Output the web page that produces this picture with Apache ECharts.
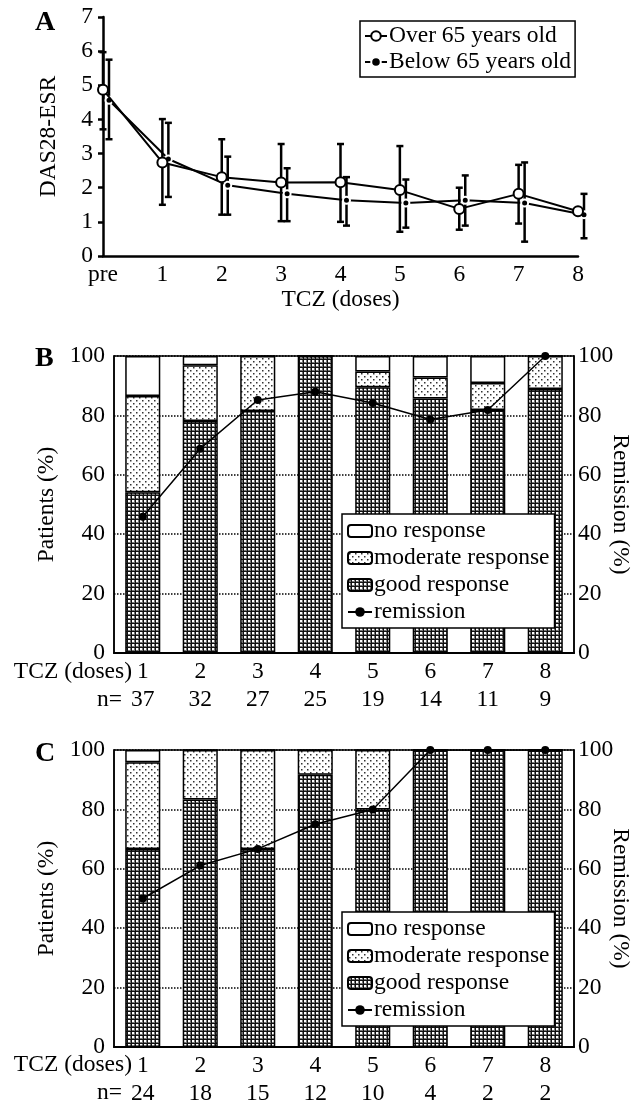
<!DOCTYPE html>
<html>
<head>
<meta charset="utf-8">
<script src="https://cdn.jsdelivr.net/npm/echarts@6/dist/echarts.min.js"></script>
<style>
html,body{margin:0;padding:0;background:#fff;}
#chart{width:639px;height:1102px;}
</style>
</head>
<body>
<div id="chart"></div>
<script>
// ---------- Panel A data ----------
const doseLabelsA = ['pre','1','2','3','4','5','6','7','8'];
const overMean  = [4.87, 2.74, 2.31, 2.15, 2.16, 1.93, 1.38, 1.82, 1.31];
const overLow   = [3.71, 1.50, 1.21, 1.02, 1.00, 0.71, 0.77, 0.95, null];
const overHigh  = [5.97, 4.01, 3.42, 3.28, 3.28, 3.22, 2.00, 2.67, null];
const belowMean = [4.56, 2.84, 2.07, 1.82, 1.63, 1.55, 1.63, 1.55, 1.21];
const belowLow  = [3.42, 1.73, 1.21, 1.02, 0.89, 0.83, 0.89, 0.42, 0.52];
const belowHigh = [5.75, 3.90, 2.91, 2.57, 2.31, 2.24, 2.36, 2.74, 1.82];

// ---------- Panel B data ----------
const doses = ['1','2','3','4','5','6','7','8'];
const nB = [37, 32, 27, 25, 19, 14, 11, 9];
const goodB     = [54.1, 78.1, 81.5, 100, 89.5, 85.7, 81.8, 88.9];
const moderateB = [32.4, 18.8, 18.5, 0, 5.3, 7.1, 9.1, 11.1];
const noneB     = [13.5, 3.1, 0, 0, 5.2, 7.2, 9.1, 0];
const remissionB = [45.9, 68.8, 85.2, 88.0, 84.2, 78.6, 81.8, 100];

// ---------- Panel C data ----------
const nC = [24, 18, 15, 12, 10, 4, 2, 2];
const goodC     = [66.7, 83.3, 66.7, 91.7, 80, 100, 100, 100];
const moderateC = [29.2, 16.7, 33.3, 8.3, 20, 0, 0, 0];
const noneC     = [4.1, 0, 0, 0, 0, 0, 0, 0];
const remissionC = [50, 61.1, 66.7, 75, 80, 100, 100, 100];

const FONT = '"Liberation Serif", "Times New Roman", serif';
const FS = 23.5;

function makePattern(kind) {
  const c = document.createElement('canvas');
  const ctx = c.getContext('2d');
  if (kind === 'good') {
    c.width = 4; c.height = 4;
    ctx.fillStyle = '#111'; ctx.fillRect(0, 0, 4, 4);
    ctx.fillStyle = '#777'; ctx.fillRect(0, 0, 3, 3);
    ctx.fillStyle = '#fff'; ctx.fillRect(0, 0, 2, 2);
  } else {
    c.width = 6; c.height = 6;
    ctx.fillStyle = '#fff'; ctx.fillRect(0, 0, 6, 6);
    ctx.fillStyle = '#333';
    ctx.fillRect(1, 1, 1.5, 1.5);
    ctx.fillRect(4, 4, 1.5, 1.5);
  }
  return { image: c, repeat: 'repeat' };
}
const goodFill = makePattern('good');
const modFill = makePattern('mod');

function errRender(params, api) {
  const x = api.value(0);
  const lo = api.value(1), hi = api.value(2);
  const p1 = api.coord([x, hi]);
  const p2 = api.coord([x, lo]);
  const w = 3.5;
  const st = { stroke: '#000', lineWidth: 2.5 };
  return {
    type: 'group',
    children: [
      { type: 'line', shape: { x1: p1[0], y1: p1[1], x2: p2[0], y2: p2[1] }, style: st },
      { type: 'line', shape: { x1: p1[0] - w, y1: p1[1], x2: p1[0] + w, y2: p1[1] }, style: st },
      { type: 'line', shape: { x1: p2[0] - w, y1: p2[1], x2: p2[0] + w, y2: p2[1] }, style: st }
    ]
  };
}
function errData(lo, hi) {
  const out = [];
  lo.forEach((l, i) => { if (l != null && hi[i] != null) out.push([i, l, hi[i]]); });
  return out;
}

const txt = { fontFamily: FONT, fontSize: FS, color: '#000' };

function barAxisX(gridIndex, nArr) {
  return {
    type: 'category', gridIndex, data: doses,
    axisLine: { show: true, lineStyle: { color: '#000', width: 2 } },
    axisTick: { show: false },
    axisLabel: Object.assign({}, txt, {
      margin: 5, lineHeight: 28,
      formatter: (v, i) => v + '\n' + nArr[i]
    })
  };
}
function barAxisYLeft(gridIndex) {
  return {
    type: 'value', gridIndex, min: 0, max: 100, interval: 20, position: 'left',
    name: 'Patients (%)', nameLocation: 'middle', nameGap: 55, nameRotate: 90,
    nameTextStyle: txt,
    axisLine: { show: true, lineStyle: { color: '#000', width: 1.5 } },
    axisTick: { show: false },
    axisLabel: Object.assign({}, txt, { margin: 9 }),
    splitLine: { show: true, lineStyle: { type: 'dotted', color: '#000', width: 1.5 } }
  };
}
function barAxisYRight(gridIndex) {
  return {
    type: 'value', gridIndex, min: 0, max: 100, interval: 20, position: 'right',
    name: 'Remission (%)', nameLocation: 'middle', nameGap: 34, nameRotate: -90,
    nameMoveOverlap: false,
    nameTextStyle: txt,
    axisLine: { show: true, lineStyle: { color: '#000', width: 1.5 } },
    axisTick: { show: false },
    axisLabel: Object.assign({}, txt, { margin: 4 }),
    splitLine: { show: false }
  };
}
function barSeries(name, data, axisIdx, fill, stack) {
  return {
    type: 'bar', name, data, xAxisIndex: axisIdx.x, yAxisIndex: axisIdx.y, stack,
    barWidth: '61%',
    itemStyle: { color: fill, borderColor: '#000', borderWidth: 1.5 },
    emphasis: { disabled: true }, animation: false
  };
}
function remSeries(data, xIdx, yIdx) {
  return {
    type: 'line', name: 'remission', data, xAxisIndex: xIdx, yAxisIndex: yIdx,
    symbol: 'circle', symbolSize: 8,
    itemStyle: { color: '#000' },
    lineStyle: { color: '#000', width: 1.5 },
    z: 5, animation: false
  };
}
function barLegend(top) {
  return {
    left: 342, top, orient: 'vertical',
    data: [
      { name: 'no response' }, { name: 'moderate response' },
      { name: 'good response' }, { name: 'remission' }
    ],
    backgroundColor: '#fff', borderColor: '#000', borderWidth: 1.5,
    padding: [5, 5, 4, 5], itemGap: 3, itemWidth: 24, itemHeight: 12,
    textStyle: Object.assign({}, txt, { padding: [0, 0, 0, -3] }),
    selectedMode: false
  };
}

const gridBase = { outerBoundsMode: 'none', containLabel: false };

const option = {
  backgroundColor: '#fff',
  animation: false,
  textStyle: { fontFamily: FONT },
  grid: [
    Object.assign({ left: 103, right: 61, top: 17, bottom: 846 }, gridBase),
    Object.assign({ left: 109, right: 55, top: 17, bottom: 846 }, gridBase),
    Object.assign({ left: 114, right: 65, top: 356, bottom: 449, show: true, borderColor: '#000', borderWidth: 1.5 }, gridBase),
    Object.assign({ left: 114, right: 65, top: 750, bottom: 55, show: true, borderColor: '#000', borderWidth: 1.5 }, gridBase)
  ],
  xAxis: [
    {
      type: 'category', gridIndex: 0, data: doseLabelsA, boundaryGap: false,
      name: 'TCZ (doses)', nameLocation: 'middle', nameGap: 30, nameTextStyle: txt,
      axisLine: { show: true, lineStyle: { color: '#000', width: 2.5 } },
      axisTick: { show: false },
      axisLabel: Object.assign({}, txt, { margin: 7 })
    },
    { type: 'category', gridIndex: 1, data: doseLabelsA, boundaryGap: false, show: false },
    barAxisX(2, nB),
    barAxisX(3, nC)
  ],
  yAxis: [
    {
      type: 'value', gridIndex: 0, min: 0, max: 7, interval: 1,
      name: 'DAS28-ESR', nameLocation: 'middle', nameGap: 42, nameRotate: 90, nameTextStyle: txt,
      axisLine: { show: true, lineStyle: { color: '#000', width: 2.5 } },
      axisTick: { show: true, length: 5, lineStyle: { color: '#000', width: 2.5 } },
      axisLabel: Object.assign({}, txt, { margin: 10 }),
      splitLine: { show: false }
    },
    { type: 'value', gridIndex: 1, min: 0, max: 7, interval: 1, show: false, splitLine: { show: false } },
    barAxisYLeft(2), barAxisYRight(2),
    barAxisYLeft(3), barAxisYRight(3)
  ],
  legend: [
    {
      left: 360, top: 21, orient: 'vertical',
      data: ['Over 65 years old', 'Below 65 years old'],
      backgroundColor: '#fff', borderColor: '#000', borderWidth: 1.5,
      padding: [3, 4, 3, 4], itemGap: 2, itemWidth: 22, itemHeight: 12,
      textStyle: Object.assign({}, txt, { padding: [0, 0, 0, -3] }),
      selectedMode: false
    },
    barLegend(514),
    barLegend(912)
  ],
  graphic: [
    { type: 'text', x: 35, y: 23, style: { text: 'A', font: 'bold 28px ' + FONT, fill: '#000', verticalAlign: 'middle' } },
    { type: 'text', x: 35, y: 359, style: { text: 'B', font: 'bold 28px ' + FONT, fill: '#000', verticalAlign: 'middle' } },
    { type: 'text', x: 35, y: 754, style: { text: 'C', font: 'bold 28px ' + FONT, fill: '#000', verticalAlign: 'middle' } },
    { type: 'text', x: 132, y: 672, style: { text: 'TCZ (doses)', font: FS + 'px ' + FONT, fill: '#000', align: 'right', verticalAlign: 'middle' } },
    { type: 'text', x: 122, y: 700, style: { text: 'n=', font: FS + 'px ' + FONT, fill: '#000', align: 'right', verticalAlign: 'middle' } },
    { type: 'text', x: 132, y: 1065, style: { text: 'TCZ (doses)', font: FS + 'px ' + FONT, fill: '#000', align: 'right', verticalAlign: 'middle' } },
    { type: 'text', x: 122, y: 1093, style: { text: 'n=', font: FS + 'px ' + FONT, fill: '#000', align: 'right', verticalAlign: 'middle' } }
  ],
  series: [
    // Panel A error bars
    { type: 'custom', xAxisIndex: 0, yAxisIndex: 0, data: errData(overLow, overHigh), renderItem: errRender, z: 2, silent: true },
    { type: 'custom', xAxisIndex: 1, yAxisIndex: 1, data: errData(belowLow, belowHigh), renderItem: errRender, z: 2, silent: true },
    {
      type: 'line', name: 'Below 65 years old', xAxisIndex: 1, yAxisIndex: 1, data: belowMean,
      symbol: 'circle', symbolSize: 7,
      itemStyle: { color: '#000', borderColor: '#fff', borderWidth: 2 },
      lineStyle: { color: '#000', width: 2 }, z: 4
    },
    {
      type: 'line', name: 'Over 65 years old', xAxisIndex: 0, yAxisIndex: 0, data: overMean,
      symbol: 'circle', symbolSize: 10,
      itemStyle: { color: '#fff', borderColor: '#000', borderWidth: 2 },
      lineStyle: { color: '#000', width: 2 }, z: 5
    },
    // Panel B
    barSeries('good response', goodB, { x: 2, y: 2 }, goodFill, 'B'),
    barSeries('moderate response', moderateB, { x: 2, y: 2 }, modFill, 'B'),
    barSeries('no response', noneB, { x: 2, y: 2 }, '#fff', 'B'),
    remSeries(remissionB, 2, 3),
    // Panel C
    barSeries('good response', goodC, { x: 3, y: 4 }, goodFill, 'C'),
    barSeries('moderate response', moderateC, { x: 3, y: 4 }, modFill, 'C'),
    barSeries('no response', noneC, { x: 3, y: 4 }, '#fff', 'C'),
    remSeries(remissionC, 3, 5)
  ]
};

const chart = echarts.init(document.getElementById('chart'), null, { renderer: 'canvas' });
chart.setOption(option);
</script>
</body>
</html>
